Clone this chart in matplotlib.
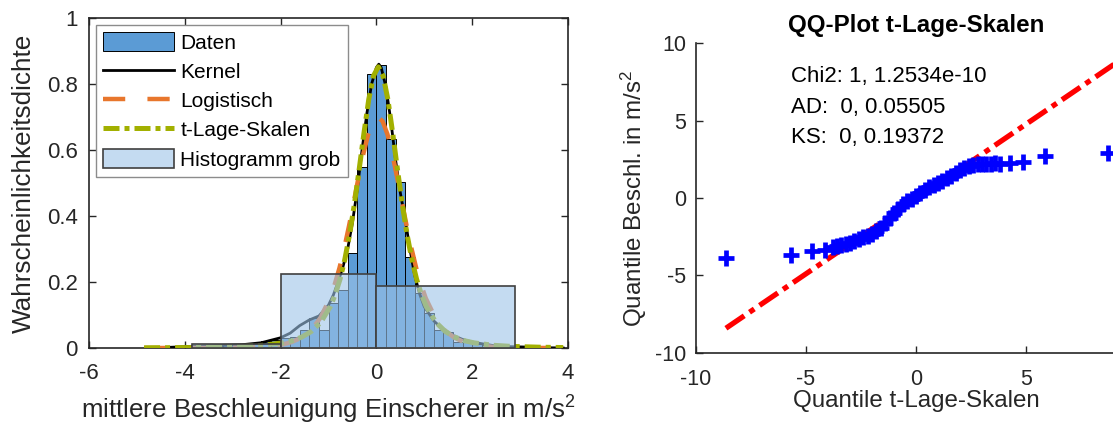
import matplotlib
matplotlib.use('Agg')
import matplotlib.pyplot as plt
import matplotlib.ticker as mticker
import numpy as np

plt.rcParams['font.family'] = ['Liberation Sans', 'DejaVu Sans']
plt.rcParams['mathtext.fontset'] = 'custom'
plt.rcParams['mathtext.rm'] = 'Liberation Sans'
plt.rcParams['mathtext.it'] = 'Liberation Sans:italic'
plt.rcParams['axes.unicode_minus'] = False

# ── Left panel: histogram + fitted densities ──
# fine histogram, bin width 0.2 from -4 to 3
fine_edges = np.linspace(-4.0, 3.0, 36)
fine_density = [0.005, 0.0, 0.005, 0.005, 0.010, 0.010, 0.012, 0.015, 0.020, 0.025,
                0.030, 0.034, 0.055, 0.092, 0.055, 0.135, 0.176, 0.287, 0.549, 0.829,
                0.858, 0.632, 0.502, 0.277, 0.167, 0.106, 0.055, 0.050, 0.019, 0.020,
                0.012, 0.008, 0.005, 0.003, 0.003]

# coarse histogram
coarse_edges = [-3.86, -2.0, 0.0, 2.9]
coarse_density = [0.011, 0.224, 0.188]

kde_x = [-4.5, -4.0, -3.6, -3.2, -2.8, -2.4, -2.0, -1.8, -1.6, -1.4, -1.2, -1.0, -0.9,
         -0.8, -0.7, -0.6, -0.5, -0.4, -0.3, -0.2, -0.1, 0.0, 0.05, 0.1, 0.2, 0.3, 0.4,
         0.5, 0.6, 0.7, 0.8, 0.9, 1.0, 1.2, 1.4, 1.6, 1.8, 2.0, 2.2, 2.5, 2.8, 3.1, 3.5, 3.9]
kde_y = [0.001, 0.004, 0.006, 0.008, 0.010, 0.016, 0.031, 0.045, 0.068, 0.085, 0.097,
         0.130, 0.160, 0.200, 0.245, 0.300, 0.380, 0.480, 0.600, 0.710, 0.800, 0.850,
         0.860, 0.850, 0.790, 0.690, 0.570, 0.470, 0.390, 0.300, 0.220, 0.165, 0.125,
         0.082, 0.055, 0.038, 0.026, 0.018, 0.013, 0.006, 0.004, 0.003, 0.001, 0.0]

logi_x = [-4.85, -3.37, -2.77, -2.37, -1.97, -1.77, -1.57, -1.37, -1.17, -0.97, -0.87,
          -0.77, -0.67, -0.57, -0.47, -0.37, -0.27, -0.17, -0.07, 0.03, 0.13, 0.23, 0.33,
          0.43, 0.53, 0.63, 0.73, 0.83, 0.93, 1.03, 1.23, 1.43, 1.63, 1.83, 2.03, 2.43,
          2.83, 3.43, 3.9]
logi_y = [0.0, 0.0002, 0.0011, 0.0034, 0.0103, 0.018, 0.031, 0.053, 0.091, 0.151, 0.193,
          0.243, 0.303, 0.371, 0.444, 0.519, 0.590, 0.648, 0.687, 0.700, 0.687, 0.648,
          0.590, 0.519, 0.444, 0.371, 0.303, 0.243, 0.193, 0.151, 0.091, 0.053, 0.031,
          0.018, 0.0103, 0.0034, 0.0011, 0.0002, 0.0]

tls_x = [-4.85, -3.82, -3.36, -2.76, -2.36, -1.96, -1.76, -1.56, -1.36, -1.16, -0.96,
         -0.86, -0.76, -0.66, -0.56, -0.46, -0.36, -0.26, -0.16, -0.06, 0.04, 0.14, 0.24,
         0.34, 0.44, 0.54, 0.64, 0.74, 0.84, 0.94, 1.04, 1.24, 1.44, 1.64, 1.84, 2.04,
         2.44, 2.84, 3.44, 3.9]
tls_y = [0.0006, 0.0014, 0.0023, 0.0047, 0.0082, 0.0156, 0.022, 0.033, 0.050, 0.078,
         0.126, 0.162, 0.208, 0.268, 0.344, 0.435, 0.541, 0.651, 0.753, 0.825, 0.852,
         0.825, 0.753, 0.651, 0.541, 0.435, 0.344, 0.268, 0.208, 0.162, 0.126, 0.078,
         0.050, 0.033, 0.022, 0.0156, 0.0082, 0.0047, 0.0023, 0.0014]

# ── Right panel: QQ plot ──
qq_x = [-8.64, -5.70, -4.74, -4.14, -3.76,
        -3.6, -3.4, -3.2, -3.0, -2.8, -2.6, -2.4, -2.2, -2.0, -1.8, -1.6, -1.4, -1.2,
        -1.0, -0.8, -0.6, -0.4, -0.2, 0.0, 0.2, 0.4, 0.6, 0.8, 1.0, 1.2, 1.4, 1.6, 1.8,
        2.0, 2.2, 2.4, 2.6, 2.8, 3.0, 3.2, 3.4, 3.6,
        3.82, 4.27, 4.88, 5.86, 8.74]
qq_y = [-3.90, -3.68, -3.41, -3.36, -3.15,
        -3.12, -3.07, -2.98, -2.90, -2.78, -2.66, -2.55, -2.44, -2.31, -2.14, -1.92,
        -1.63, -1.32, -1.00, -0.68, -0.42, -0.22, -0.04, 0.13, 0.31, 0.50, 0.69, 0.86,
        1.00, 1.13, 1.27, 1.43, 1.62, 1.81, 1.96, 2.06, 2.13, 2.17, 2.20, 2.22, 2.23, 2.24,
        2.18, 2.24, 2.35, 2.74, 2.89]
ref_x = [-8.64, 9.0]
ref_y = [-8.42, 8.64]

qq_notes = ['Chi2: 1, 1.2534e-10', 'AD:  0, 0.05505', 'KS:  0, 0.19372']

W, H = 1113, 425
fig = plt.figure(figsize=(W / 100, H / 100), dpi=100)
ax1 = fig.add_axes([89 / W, 77 / H, 479 / W, 330 / H])
ax2 = fig.add_axes([696 / W, 72.3 / H, 440 / W, 309.4 / H])

ink = '#262626'

h_dat = ax1.bar(fine_edges[:-1], fine_density, width=np.diff(fine_edges), align='edge',
                color='#5B9BD5', edgecolor='black', linewidth=0.7, label='Daten', zorder=2)
h_ker, = ax1.plot(kde_x, kde_y, color='black', lw=2.0, label='Kernel', zorder=3)
h_log, = ax1.plot(logi_x, logi_y, color='#E8762C', lw=3.2, dashes=(5, 5),
                  label='Logistisch', zorder=4)
h_tls, = ax1.plot(tls_x, tls_y, color='#A2B000', lw=3.6, dashes=(3.2, 1.0, 1.0, 1.0),
                  label='t-Lage-Skalen', zorder=5)
h_grob = ax1.bar(coarse_edges[:-1], coarse_density, width=np.diff(coarse_edges),
                 align='edge', facecolor=(0.62, 0.77, 0.91, 0.6), edgecolor='#404040',
                 linewidth=1.2, label='Histogramm grob', zorder=6)

ax1.set_xlim(-6, 4)
ax1.set_ylim(0, 1)
ax1.set_xticks([-6, -4, -2, 0, 2, 4])
ax1.set_yticks([0, 0.2, 0.4, 0.6, 0.8, 1])
ax1.yaxis.set_major_formatter(mticker.FormatStrFormatter('%g'))
ax1.tick_params(direction='in', top=True, right=True, length=5, width=1,
                labelsize=16, pad=8, colors=ink)
ax1.tick_params(axis='x', pad=11)
for sp in ax1.spines.values():
    sp.set_linewidth(1.2)
    sp.set_color(ink)
ax1.set_xlabel('mittlere Beschleunigung Einscherer in m/s$^2$', fontsize=18.6,
               color=ink, labelpad=7)
ax1.set_ylabel('Wahrscheinlichkeitsdichte', fontsize=18.8, color=ink, labelpad=8)
leg = ax1.legend([h_dat, h_ker, h_log, h_tls, h_grob],
                 ['Daten', 'Kernel', 'Logistisch', 't-Lage-Skalen', 'Histogramm grob'],
                 loc='upper left', bbox_to_anchor=(7 / 479, 323 / 330),
                 borderaxespad=0, fontsize=15, handlelength=3.4, handleheight=1.0,
                 handletextpad=0.3, labelspacing=0.42, borderpad=0.35,
                 fancybox=False, framealpha=1, edgecolor='#8c8c8c')
leg.get_frame().set_linewidth(1.0)

ax2.plot(ref_x, ref_y, color='red', lw=3.8, dashes=(4.2, 1.2, 1.1, 1.2), zorder=2)
ax2.plot(qq_x, qq_y, '+', color='blue', ms=11, mew=3.4, zorder=3)
ax2.set_xlim(-10, 10)
ax2.set_ylim(-10, 10)
ax2.set_xticks([-10, -5, 0, 5])
ax2.set_yticks([-10, -5, 0, 5, 10])
ax2.spines['top'].set_visible(False)
ax2.spines['right'].set_visible(False)
for sp in ('left', 'bottom'):
    ax2.spines[sp].set_linewidth(1.2)
    ax2.spines[sp].set_color(ink)
ax2.tick_params(direction='in', length=5, width=1, labelsize=15.5, pad=7, colors=ink)
ax2.tick_params(axis='x', pad=12)
ax2.set_xlabel('Quantile t-Lage-Skalen', fontsize=17.4, color=ink, labelpad=0)
ax2.set_ylabel('Quantile Beschl. in m/s$^2$', fontsize=17.4, color=ink, labelpad=4)
ax2.set_title('QQ-Plot t-Lage-Skalen', fontsize=17.4, fontweight='bold', pad=8)
for yv, note in zip([7.84, 5.86, 3.9], qq_notes):
    ax2.text(-5.7, yv, note, fontsize=16, va='center', color='black')

fig.savefig('out.png', dpi=100, facecolor='white')
